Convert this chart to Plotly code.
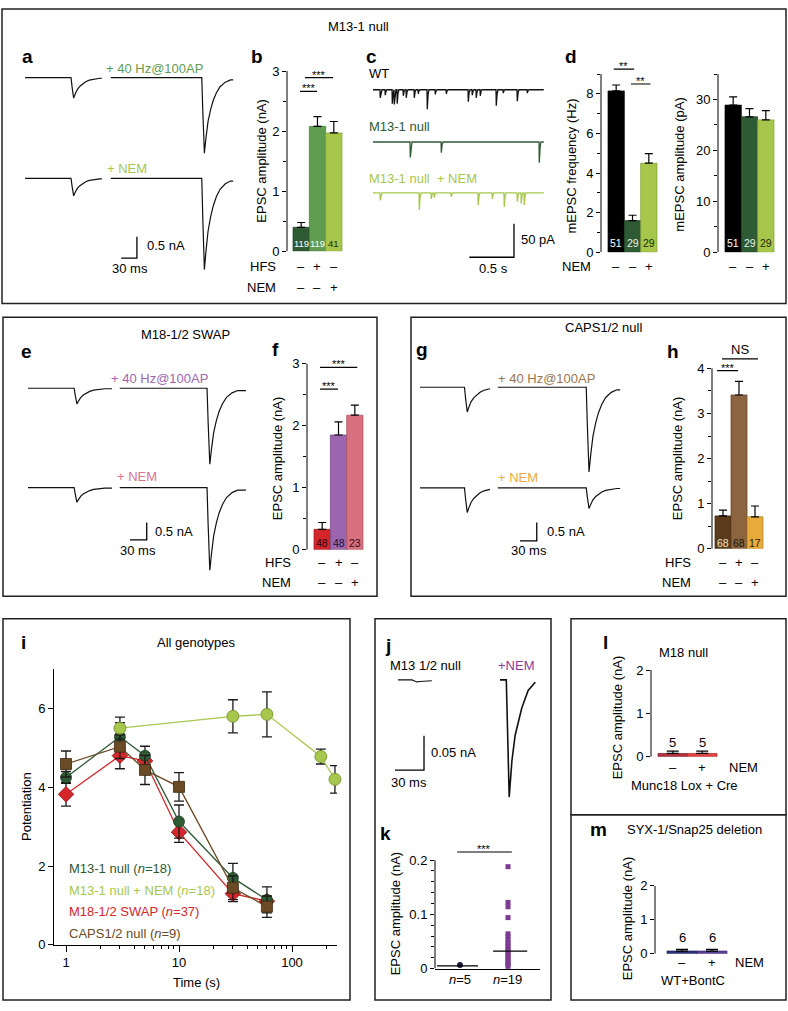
import plotly.graph_objects as go

W, H = 788, 1011
FONT = "Liberation Sans, Arial, Helvetica, sans-serif"

# ---------------- data ----------------
# EPSC waveform (ms after onset, fraction of peak)
epsc_t = [0, 2, 5, 8, 12, 17, 22, 28, 35, 45, 55]
epsc_f = [0, 0.45, 1.0, 0.8, 0.58, 0.42, 0.3, 0.2, 0.12, 0.06, 0.03]
# faster waveform of the +NEM trace in panel j
jnem_t = [0, 3, 5.8, 9.2, 16, 22.6, 30]
jnem_f = [0, 1.0, 0.69, 0.47, 0.24, 0.09, 0.02]

# a: M13-1 null (ms, nA)
a_seg_start = [0, 164]
a_seg_end = [147, 398]
a_onset = [88, 338]
a_amp_hfs = [0.48, 1.77]
a_amp_nem = [0.41, 2.14]

# e: M18-1/2 SWAP
e_seg_start = [0, 165]
e_seg_end = [151, 392]
e_onset = [83, 322]
e_amp_hfs = [0.45, 2.18]
e_amp_nem = [0.42, 2.37]

# g: CAPS1/2 null
g_seg_start = [0, 140]
g_seg_end = [126, 360]
g_onset = [80, 299]
g_amp_hfs = [0.67, 2.30]
g_amp_nem = [0.67, 0.56]

# c: mEPSC events (s, pA)
c_length = 1.91
wt_t = [0.078, 0.134, 0.213, 0.235, 0.268, 0.336, 0.369, 0.459, 0.503, 0.604,
        0.694, 0.817, 1.063, 1.107, 1.152, 1.197, 1.376, 1.454, 1.611, 1.723]
wt_a = [12, 8, 21, 22, 21, 9, 12, 12, 6, 29, 7, 6, 18, 8, 12, 9, 24, 5, 17, 5]
m13_t = [0.414, 0.761, 1.857]
m13_a = [23, 16, 31]
nemc_t = [0.078, 0.515, 0.649, 0.682, 0.872, 1.174, 1.331, 1.465, 1.611, 1.655, 1.689]
nemc_a = [11, 25, 9, 7, 6, 18, 9, 21, 13, 16, 18]

# j: M13 1/2 null (ms, nA)
j_ctrl_start, j_ctrl_end, j_ctrl_onset, j_ctrl_amp = [0], [35], [14.5], [0.003]
j_nem_start, j_nem_end, j_nem_onset, j_nem_amp = [105.5], [142], [112], [0.17]

hfs_signs = ["\u2013", "+", "\u2013"]
nem_signs = ["\u2013", "\u2013", "+"]

# b
b_vals = [0.40, 2.08, 1.97]
b_tops = [0.48, 2.24, 2.16]
b_n = ["119", "119", "41"]
# d
d_freq = [8.15, 1.60, 4.50]
d_freq_tops = [8.45, 1.87, 4.98]
d_amp = [28.9, 26.6, 26.0]
d_amp_tops = [30.5, 28.2, 27.8]
d_n = ["51", "29", "29"]
# f
f_vals = [0.33, 1.85, 2.17]
f_tops = [0.44, 2.06, 2.33]
f_n = ["48", "48", "23"]
# h
h_vals = [0.73, 3.41, 0.71]
h_tops = [0.86, 3.71, 0.95]
h_n = ["68", "68", "17"]

# i
i_time = [1, 3, 5, 10, 30, 60]
m13_pot = [4.25, 5.28, 4.80, 3.13, 1.70, 1.14]
m13_pot_err = [0.15, 0.36, 0.24, 0.42, 0.37, 0.33]
swap_pot = [3.82, 4.80, 4.67, 2.86, 1.30, 1.11]
swap_pot_err = [0.30, 0.33, 0.20, 0.26, 0.20, 0.12]
caps_pot = [4.59, 5.03, 4.44, 4.01, 1.45, 0.97]
caps_pot_err = [0.33, 0.30, 0.37, 0.36, 0.30, 0.27]
nem_time = [3, 30, 60, 180, 240]
nem_pot = [5.50, 5.80, 5.85, 4.78, 4.20]
nem_pot_err = [0.28, 0.42, 0.57, 0.19, 0.35]

# k
k_ctrl = [0.0067]
k_ctrl_line = 0.005
k_nem = [0.188, 0.122, 0.114, 0.094, 0.064, 0.059, 0.053, 0.048, 0.043, 0.039,
         0.034, 0.030, 0.026, 0.022, 0.018, 0.014, 0.010, 0.007, 0.004]
k_nem_line = 0.032
k_labels = ["<i>n</i>=5", "<i>n</i>=19"]

# l, m
l_vals = [0.075, 0.075]
l_tops = [0.13, 0.13]
l_n = ["5", "5"]
m_vals = [0.08, 0.08]
m_tops = [0.13, 0.13]
m_n = ["6", "6"]
lm_signs = ["\u2013", "+"]

# ---------------- helpers ----------------
layout = dict(width=W, height=H, margin=dict(l=0, r=0, t=0, b=0),
              paper_bgcolor="white", plot_bgcolor="rgba(0,0,0,0)",
              showlegend=False, font=dict(family=FONT, size=12, color="black"))
traces, shapes, annots = [], [], []
n_ax = [0]


def px2x(px):
    return px / W


def py2y(py):
    return 1 - py / H


def new_axes(x0, x1, y_top, y_bot, xr, yr, xtype="linear"):
    n_ax[0] += 1
    s = "" if n_ax[0] == 1 else str(n_ax[0])
    layout["xaxis" + s] = dict(domain=[px2x(x0), px2x(x1)], range=xr, type=xtype,
                               anchor="y" + s, showgrid=False, zeroline=False, visible=False)
    layout["yaxis" + s] = dict(domain=[py2y(y_bot), py2y(y_top)], range=yr,
                               anchor="x" + s, showgrid=False, zeroline=False, visible=False)
    return "x" + s, "y" + s


def trace_axes(x0, x1, y_top, y_bot, x_org, x_ppu, y_org, y_ppu):
    xr = [(x0 - x_org) / x_ppu, (x1 - x_org) / x_ppu]
    yr = [(y_org - y_bot) / y_ppu, (y_org - y_top) / y_ppu]
    return new_axes(x0, x1, y_top, y_bot, xr, yr)


def text(s, px, py, size=13, color="black", anchor="center", bold=False, angle=0):
    if bold:
        s = "<b>" + s + "</b>"
    annots.append(dict(text=s, x=px2x(px), y=py2y(py), xref="paper", yref="paper",
                       xanchor=anchor, yanchor="middle", showarrow=False,
                       font=dict(size=size, color=color), textangle=angle))


def box(x0, y0, x1, y1):
    shapes.append(dict(type="rect", xref="paper", yref="paper", x0=px2x(x0), x1=px2x(x1),
                       y0=py2y(y1), y1=py2y(y0), line=dict(color="#222", width=1.5)))


def epsc(starts, ends, onsets, amps, tt, ff, offset):
    xs, ys = [], []
    for s, e, o, amp in zip(starts, ends, onsets, amps):
        xs.append(s)
        ys.append(offset)
        for t, f in zip(tt, ff):
            if o + t <= e:
                xs.append(o + t)
                ys.append(offset - amp * f)
        if xs[-1] < e:
            xs.append(e)
            ys.append(ys[-1])
        xs.append(None)
        ys.append(None)
    return xs, ys


def minis(length, ev_t, ev_a, offset):
    xs, ys = [0], [offset]
    for t, a in sorted(zip(ev_t, ev_a)):
        xs += [t, t + 0.003, t + 0.012, t + 0.022]
        ys += [offset, offset - a, offset - 0.25 * a, offset]
    xs.append(length)
    ys.append(offset)
    return xs, ys


def line(xa, ya, xs, ys, color="black", width=1.2):
    traces.append(go.Scatter(x=xs, y=ys, mode="lines", xaxis=xa, yaxis=ya,
                             line=dict(color=color, width=width), hoverinfo="skip"))


def scale_bar(xa, ya, xc, yc, dx, dy):
    line(xa, ya, [xc - dx, xc, xc], [yc, yc, yc + dy], width=1.3)


def bar_axes(axis_px, bar_left, bar_w, n, zero_py, ppu, top_py, ticks, labels, minor, line_top):
    right = bar_left + n * bar_w + 3
    xr = [-0.5 - (bar_left - axis_px) / bar_w, n - 0.5 + 3 / bar_w]
    yr = [0, (zero_py - top_py) / ppu]
    xa, ya = new_axes(axis_px, right, top_py, zero_py, xr, yr)
    yk = "yaxis" + ya[1:]
    layout[yk].update(visible=True, showline=False, ticks="outside", ticklen=4, tickwidth=1,
                      tickcolor="black", tickmode="array", tickvals=ticks, ticktext=labels,
                      tickfont=dict(size=13))
    if minor:
        layout[yk]["minor"] = dict(tickmode="array", tickvals=minor, ticks="outside",
                                   ticklen=3, tickwidth=1, tickcolor="black", showgrid=False)
    shapes.append(dict(type="line", xref=xa + " domain", yref=ya, x0=0, x1=0, y0=0,
                       y1=line_top, line=dict(color="black", width=1)))
    return xa, ya


def bars(xa, ya, vals, tops, colors, edges, cap=4):
    traces.append(go.Bar(x=list(range(len(vals))), y=vals, width=1, xaxis=xa, yaxis=ya,
                         marker=dict(color=colors, line=dict(color=edges, width=0.7)),
                         error_y=dict(type="data", symmetric=False,
                                      array=[t - v for t, v in zip(tops, vals)],
                                      arrayminus=[0] * len(vals), color="black",
                                      thickness=1.2, width=cap),
                         hoverinfo="skip"))


def sig(xa, ya, x0, x1, y, label, shift=-5, size=11):
    line(xa, ya, [x0, x1], [y, y])
    annots.append(dict(text=label, x=(x0 + x1) / 2, y=y, xref=xa, yref=ya, yanchor="bottom",
                       showarrow=False, yshift=shift, font=dict(size=size)))


def row_text(xa, labels, py, size=13, colors=None):
    for i, lab in enumerate(labels):
        annots.append(dict(text=lab, x=i, y=py2y(py), xref=xa, yref="paper", yanchor="middle",
                           showarrow=False,
                           font=dict(size=size, color=colors[i] if colors else "black")))


# ---------------- frames ----------------
box(2, 2, 786, 301)
box(3, 315, 377, 598)
box(411, 315, 786, 598)
box(3, 621, 350, 1008)
box(375, 621, 551, 1008)
box(571, 621, 786, 820)
box(571, 820, 786, 1008)

GREEN_D, GREEN_M, GREEN_L = "#2e5a34", "#5f9c50", "#a6c74b"

# ---------------- a ----------------
text("M13-1 null", 358, 20)
text("a", 27, 50, size=19, bold=True)
xa, ya = trace_axes(20, 245, 55, 285, 25, 0.523, 71.7, 43.3)
line(xa, ya, *epsc(a_seg_start, a_seg_end, a_onset, a_amp_hfs, epsc_t, epsc_f, 0), color="#111")
line(xa, ya, *epsc(a_seg_start, a_seg_end, a_onset, a_amp_nem, epsc_t, epsc_f, -2.36), color="#111")
scale_bar(xa, ya, 214, -4.23, 30, 0.5)
text("+ 40 Hz@100AP", 154, 62, size=13, color=GREEN_M)
text("+ NEM", 127, 164, size=13, color=GREEN_L)
text("0.5 nA", 145, 242, size=13, anchor="left")
text("30 ms", 130, 265, size=13)

# ---------------- b ----------------
text("b", 257, 50, size=19, bold=True)
xa, ya = bar_axes(287, 293, 16.33, 3, 248, 61, 50, [0, 1, 2, 3], ["0", "1", "2", "3"],
                  [0.5, 1.5, 2.5], 3)
bars(xa, ya, b_vals, b_tops, [GREEN_D, GREEN_M, GREEN_L], ["#1d3d20", "#3f7a36", "#7f9f30"])
sig(xa, ya, -0.07, 0.97, 2.66, "***")
sig(xa, ya, 0.23, 1.95, 2.89, "***")
row_text(xa, b_n, 240, size=9.5, colors=["white", "white", "#1e2a0a"])
row_text(xa, hfs_signs, 263)
row_text(xa, nem_signs, 285)
text("HFS", 278, 263, anchor="right")
text("NEM", 278, 285, anchor="right")
text("EPSC amplitude (nA)", 262, 156, angle=-90)

# ---------------- c ----------------
text("c", 371, 50, size=19, bold=True)
xa, ya = trace_axes(365, 560, 70, 270, 373, 89.4, 84, 0.68)
line(xa, ya, *minis(c_length, wt_t, wt_a, 0), color="#111", width=1.3)
line(xa, ya, *minis(c_length, m13_t, m13_a, -78), color=GREEN_D, width=1.3)
line(xa, ya, *minis(c_length, nemc_t, nemc_a, -154), color=GREEN_L, width=1.3)
scale_bar(xa, ya, 1.577, -250, 0.5, 50)
text("WT", 367, 68, anchor="left")
text("M13-1 null", 367, 121, color=GREEN_D, anchor="left")
text("M13-1 null\u00a0\u00a0+ NEM", 367, 174, color=GREEN_L, anchor="left")
text("50 pA", 519, 236, anchor="left")
text("0.5 s", 493, 265)

# ---------------- d ----------------
text("d", 571, 50, size=19, bold=True)
xa, ya = bar_axes(601, 608, 16.33, 3, 249, 20.1, 45, [0, 2, 4, 6, 8], ["0", "2", "4", "6", "8"],
                  [1, 3, 5, 7, 9], 9)
bars(xa, ya, d_freq, d_freq_tops, ["#000000", GREEN_D, GREEN_L], ["#000000", "#1d3d20", "#7f9f30"])
sig(xa, ya, -0.15, 1.1, 9.25, "**")
sig(xa, ya, 0.9, 2.1, 8.5, "**")
row_text(xa, d_n, 240, size=10.5, colors=["white", "#e8f0e0", "#1e2a0a"])
row_text(xa, nem_signs, 263)
text("NEM", 593, 263, anchor="right")
text("mEPSC frequency (Hz)", 572, 162, angle=-90)

xa, ya = bar_axes(718, 725, 16.33, 3, 249, 5.17, 68, [0, 10, 20, 30], ["0", "10", "20", "30"],
                  [5, 15, 25, 35], 35)
bars(xa, ya, d_amp, d_amp_tops, ["#000000", GREEN_D, GREEN_L], ["#000000", "#1d3d20", "#7f9f30"])
row_text(xa, d_n, 240, size=10.5, colors=["white", "#e8f0e0", "#1e2a0a"])
row_text(xa, nem_signs, 263)
text("mEPSC amplitude (pA)", 680, 160, angle=-90)

# ---------------- e ----------------
PURPLE, PINK, RED = "#9b66ae", "#d9748a", "#d4262b"
text("M18-1/2 SWAP", 185, 332)
text("e", 26, 350, size=19, bold=True)
xa, ya = trace_axes(20, 250, 370, 590, 28, 0.556, 387, 35.4)
line(xa, ya, *epsc(e_seg_start, e_seg_end, e_onset, e_amp_hfs, epsc_t, epsc_f, 0), color="#111")
line(xa, ya, *epsc(e_seg_start, e_seg_end, e_onset, e_amp_nem, epsc_t, epsc_f, -2.85), color="#111")
scale_bar(xa, ya, 213.5, -4.35, 30, 0.5)
text("+ 40 Hz@100AP", 159, 377, size=13, color=PURPLE)
text("+ NEM", 137, 477, size=13, color=PINK)
text("0.5 nA", 153, 532, size=13, anchor="left")
text("30 ms", 138, 552, size=13)

# ---------------- f ----------------
text("f", 275, 348, size=19, bold=True)
xa, ya = bar_axes(307, 314, 16.33, 3, 551, 63, 345, [0, 1, 2, 3], ["0", "1", "2", "3"],
                  [0.5, 1.5, 2.5], 3)
bars(xa, ya, f_vals, f_tops, [RED, PURPLE, "#d8707f"], ["#9a1a1e", "#6e4580", "#a8505d"])
sig(xa, ya, -0.13, 0.97, 2.59, "***")
sig(xa, ya, -0.13, 2.15, 2.94, "***")
row_text(xa, f_n, 544, size=10.5, colors=["#2a0808", "#20103a", "#3a0c18"])
row_text(xa, hfs_signs, 564)
row_text(xa, nem_signs, 584)
text("HFS", 293, 564, anchor="right")
text("NEM", 293, 584, anchor="right")
text("EPSC amplitude (nA)", 277, 458, angle=-90)

# ---------------- g ----------------
BROWN_D, BROWN, GOLD = "#5b3b1c", "#8c6440", "#e9aa3c"
text("CAPS1/2 null", 603, 325)
text("g", 422, 348, size=19, bold=True)
xa, ya = trace_axes(415, 630, 370, 590, 420, 0.556, 386, 37.4)
line(xa, ya, *epsc(g_seg_start, g_seg_end, g_onset, g_amp_hfs, epsc_t, epsc_f, 0), color="#111")
line(xa, ya, *epsc(g_seg_start, g_seg_end, g_onset, g_amp_nem, epsc_t, epsc_f, -2.73), color="#111")
scale_bar(xa, ya, 210, -4.17, 30, 0.5)
text("+ 40 Hz@100AP", 546, 377, size=13, color="#9a7650")
text("+ NEM", 518, 478, size=13, color=GOLD)
text("0.5 nA", 545, 532, size=13, anchor="left")
text("30 ms", 529, 552, size=13)

# ---------------- h ----------------
text("h", 673, 350, size=19, bold=True)
xa, ya = bar_axes(712, 715, 16, 3, 550, 45.8, 335, [0, 1, 2, 3, 4], ["0", "1", "2", "3", "4"],
                  [0.5, 1.5, 2.5, 3.5], 4)
bars(xa, ya, h_vals, h_tops, [BROWN_D, BROWN, GOLD], ["#3a2410", "#5e4128", "#b07d22"])
sig(xa, ya, -0.37, 0.94, 3.95, "***")
sig(xa, ya, -0.06, 2.19, 4.21, "NS", shift=0, size=13)
row_text(xa, h_n, 544, size=10.5, colors=["#f0e2c8", "#1e1208", "#2a1a04"])
row_text(xa, hfs_signs, 564)
row_text(xa, nem_signs, 584)
text("HFS", 693, 564, anchor="right")
text("NEM", 693, 584, anchor="right")
text("EPSC amplitude (nA)", 677, 458, angle=-90)

# ---------------- i ----------------
text("i", 23, 645, size=19, bold=True)
text("All genotypes", 196, 645)
xa, ya = new_axes(54, 337, 672, 952, [(54 - 66) / 113, (337 - 66) / 113], [0, 7], xtype="log")
layout["xaxis" + xa[1:]].update(
    visible=True, showline=True, linecolor="black", linewidth=1, ticks="outside", ticklen=6,
    tickcolor="black", tickmode="array", tickvals=[1, 10, 100], ticktext=["1", "10", "100"],
    tickfont=dict(size=13),
    minor=dict(tickmode="array", tickvals=[2, 3, 4, 5, 6, 7, 8, 9, 20, 30, 40, 50, 60, 70, 80, 90, 200],
               ticks="outside", ticklen=3.5, tickcolor="black"))
layout["yaxis" + ya[1:]].update(
    visible=True, showline=True, linecolor="black", linewidth=1, ticks="outside", ticklen=5,
    tickcolor="black", tickmode="array", tickvals=[0, 2, 4, 6], ticktext=["0", "2", "4", "6"],
    tickfont=dict(size=13))
series = [
    (i_time, swap_pot, swap_pot_err, RED, "#8e1518", "diamond", 12),
    (i_time, m13_pot, m13_pot_err, GREEN_D, "#1a3a1e", "circle", 11),
    (i_time, caps_pot, caps_pot_err, "#6b4a26", "#3e2a12", "square", 11),
    (nem_time, nem_pot, nem_pot_err, GREEN_L, "#6f8d2c", "circle", 12),
]
for tx, vy, ve, col, edge, sym, sz in series:
    traces.append(go.Scatter(x=tx, y=vy, mode="lines+markers", xaxis=xa, yaxis=ya,
                             line=dict(color=col, width=1.3),
                             marker=dict(symbol=sym, size=sz, color=col, line=dict(color=edge, width=0.8)),
                             error_y=dict(type="data", array=ve, color="#1a1a1a", thickness=1.3, width=5),
                             cliponaxis=False, hoverinfo="skip"))
text("M13-1 null (<i>n</i>=18)", 67, 874, size=13, color=GREEN_D, anchor="left")
text("M13-1 null + NEM (<i>n</i>=18)", 67, 897, size=13, color=GREEN_L, anchor="left")
text("M18-1/2 SWAP (<i>n</i>=37)", 67, 918, size=13, color=RED, anchor="left")
text("CAPS1/2 null (<i>n</i>=9)", 67, 940, size=13, color="#6b4a26", anchor="left")
text("Potentiation", 27, 812, angle=-90)
text("Time (s)", 196, 990)

# ---------------- j ----------------
text("j", 388, 648, size=19, bold=True)
xa, ya = trace_axes(385, 548, 660, 815, 398, 0.967, 683, 700)
line(xa, ya, *epsc(j_ctrl_start, j_ctrl_end, j_ctrl_onset, j_ctrl_amp, epsc_t, epsc_f, 0), color="#111")
line(xa, ya, *epsc(j_nem_start, j_nem_end, j_nem_onset, j_nem_amp, jnem_t, jnem_f, 0), color="#111", width=1.6)
scale_bar(xa, ya, 26.9, -0.131, 30, 0.05)
text("M13 1/2 null", 388, 668, anchor="left")
text("+NEM", 516, 668, color="#8b3a9a")
text("0.05 nA", 429, 757, size=13, anchor="left")
text("30 ms", 409, 787, size=13)

# ---------------- k ----------------
text("k", 385, 839, size=19, bold=True)
xa, ya = new_axes(435, 540, 845, 976, [(435 - 460) / 48, (540 - 460) / 48], [0, (976 - 845) / 550])
layout["xaxis" + xa[1:]].update(visible=True, showline=True, linecolor="black", linewidth=1,
                                showticklabels=False, ticks="")
layout["yaxis" + ya[1:]].update(
    visible=True, showline=False, ticks="outside", ticklen=4, tickcolor="black", tickmode="array",
    tickvals=[0, 0.1, 0.2], ticktext=["0", "0.1", "0.2"], tickfont=dict(size=13),
    minor=dict(tickmode="array", tickvals=[0.02, 0.04, 0.06, 0.08, 0.12, 0.14, 0.16, 0.18],
               ticks="outside", ticklen=3, tickcolor="black"))
shapes.append(dict(type="line", xref=xa + " domain", yref=ya, x0=0, x1=0, y0=0, y1=0.2,
                   line=dict(color="black", width=1)))
traces.append(go.Scatter(x=[0] * len(k_ctrl), y=k_ctrl, mode="markers", xaxis=xa, yaxis=ya,
                         marker=dict(symbol="circle", size=6, color="#1a1a40"), cliponaxis=False))
traces.append(go.Scatter(x=[1] * len(k_nem), y=k_nem, mode="markers", xaxis=xa, yaxis=ya,
                         marker=dict(symbol="square", size=5, color="#7d3a92"), cliponaxis=False))
line(xa, ya, [-0.48, 0.375], [k_ctrl_line, k_ctrl_line])
line(xa, ya, [0.69, 1.4], [k_nem_line, k_nem_line])
sig(xa, ya, -0.06, 1.08, 0.215, "***")
row_text(xa, k_labels, 987)
text("EPSC amplitude (nA)", 395, 920, angle=-90)

# ---------------- l ----------------
text("l", 605, 645, size=19, bold=True)
text("M18 null", 683, 655)
xa, ya = bar_axes(651, 658, 29.5, 2, 761, 44, 673, [0, 1, 2], ["0", "1", "2"], None, 2)
bars(xa, ya, l_vals, l_tops, ["#b3303c", "#e04242"], ["#7a1c24", "#a82a2a"], cap=6)
row_text(xa, l_n, 747)
row_text(xa, lm_signs, 772)
text("NEM", 727, 772, anchor="left")
text("Munc18 Lox + Cre", 684, 790)
text("EPSC amplitude (nA)", 617, 721, angle=-90)

# ---------------- m ----------------
text("m", 598, 835, size=19, bold=True)
text("SYX-1/Snap25 deletion", 625, 835, anchor="left")
xa, ya = bar_axes(655, 667, 30, 2, 961, 34.5, 892, [0, 1, 2], ["0", "1", "2"], None, 2)
bars(xa, ya, m_vals, m_tops, ["#2b3577", "#5b3f9a"], ["#1a2050", "#3c2870"], cap=6)
row_text(xa, m_n, 945)
row_text(xa, lm_signs, 970)
text("NEM", 733, 970, anchor="left")
text("WT+BontC", 693, 988)
text("EPSC amplitude (nA)", 627, 925, angle=-90)

fig = go.Figure(data=traces)
fig.update_layout(**layout, shapes=shapes, annotations=annots)
fig.write_html("out.html", config={"displayModeBar": False},
               post_script="document.body.style.margin='0px';document.body.style.overflow='hidden';")
